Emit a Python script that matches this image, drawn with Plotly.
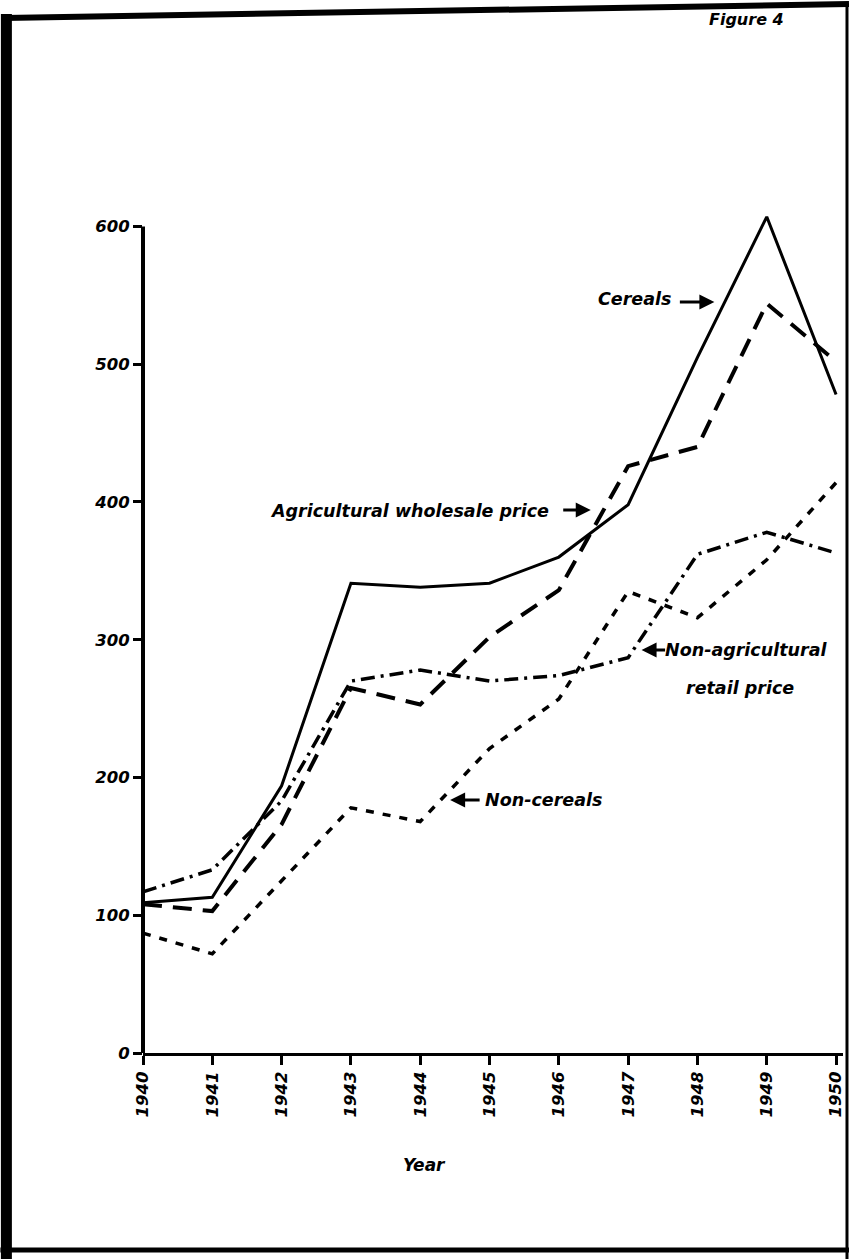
import plotly.graph_objects as go

# Data (index values, 1940-1950)
years = [1940, 1941, 1942, 1943, 1944, 1945, 1946, 1947, 1948, 1949, 1950]
cereals = [109, 113, 194, 341, 338, 341, 360, 398, 505, 607, 478]
agri_wholesale = [108, 103, 166, 265, 253, 302, 336, 426, 440, 544, 502]
nonagri_retail = [117, 133, 183, 270, 278, 270, 274, 287, 362, 378, 363]
non_cereals = [87, 72, 125, 178, 168, 221, 257, 335, 316, 358, 414]

y_ticks = [0, 100, 200, 300, 400, 500, 600]
x_ticks = years

W, H = 851, 1259
L, R, T, B = 143, 845, 192, 1053  # plot area in pixels


def px(x):
    return (x - L) / (R - L)


def py(y):
    return (B - y) / (B - T)


lab_font = dict(family="DejaVu Sans", size=16.5, color="black", weight="bold", style="italic")

fig = go.Figure()

fig.add_trace(go.Scatter(x=years, y=cereals, mode="lines", name="Cereals",
                         line=dict(color="black", width=3)))
fig.add_trace(go.Scatter(x=years, y=agri_wholesale, mode="lines", name="Agricultural wholesale price",
                         line=dict(color="black", width=4, dash="19px,11px")))
fig.add_trace(go.Scatter(x=years, y=nonagri_retail, mode="lines", name="Non-agricultural retail price",
                         line=dict(color="black", width=3.5, dash="14px,6px,3px,6px")))
fig.add_trace(go.Scatter(x=years, y=non_cereals, mode="lines", name="Non-cereals",
                         line=dict(color="black", width=3.5, dash="8px,9px")))

# Axis lines and page frame
shapes = [
    dict(type="line", xref="paper", yref="y", x0=0, x1=0, y0=0, y1=600,
         line=dict(color="black", width=4)),
    dict(type="line", xref="paper", yref="paper", x0=px(6), x1=px(6), y0=py(1259), y1=py(14),
         line=dict(color="black", width=11)),
    dict(type="line", xref="paper", yref="paper", x0=px(4), x1=px(851), y0=py(18), y1=py(4),
         line=dict(color="black", width=6)),
    dict(type="line", xref="paper", yref="paper", x0=px(849), x1=px(849), y0=py(3), y1=py(1259),
         line=dict(color="black", width=3)),
    dict(type="line", xref="paper", yref="paper", x0=px(0), x1=px(851), y0=py(1250), y1=py(1250),
         line=dict(color="black", width=5)),
]

annotations = []


def label(text, x, y, size=17.5):
    f = dict(lab_font)
    f["size"] = size
    annotations.append(dict(text=text, xref="paper", yref="paper", x=px(x), y=py(y),
                            showarrow=False, font=f, xanchor="center", yanchor="middle"))


def arrow(x, y, ax):
    annotations.append(dict(text="", xref="paper", yref="paper", x=px(x), y=py(y),
                            ax=ax, ay=0, showarrow=True, arrowhead=2, arrowsize=1,
                            arrowwidth=3, arrowcolor="black", standoff=0))


label("Cereals", 636, 299)
arrow(716, 302, -36)
label("Agricultural wholesale price", 410, 511)
arrow(592, 510, -29)
label("Non-agricultural", 748, 650)
arrow(643, 650, 25)
label("retail price", 742, 688)
label("Non-cereals", 545, 800)
arrow(451, 800, 31)
label("Figure 4", 748, 19, 16)
label("Year", 425, 1165, 17)

fig.update_layout(
    width=W, height=H,
    margin=dict(l=L, r=W - R, t=T, b=H - B, pad=0),
    paper_bgcolor="white", plot_bgcolor="white",
    showlegend=False,
    shapes=shapes,
    annotations=annotations,
)
fig.update_xaxes(range=[1940, 1950.1], tickvals=x_ticks, ticktext=[str(v) for v in x_ticks],
                 tickangle=-90, ticks="outside", ticklen=9, tickwidth=2.5, tickcolor="black",
                 showgrid=False, zeroline=False, showline=True, linecolor="black", linewidth=3,
                 tickfont=lab_font)
fig.update_yaxes(range=[0, 625], tickvals=y_ticks, ticktext=[str(v) for v in y_ticks],
                 ticks="outside", ticklen=9, tickwidth=2.5, tickcolor="black",
                 showgrid=False, zeroline=False, showline=False,
                 tickfont=lab_font)

# drop the default page margin so the figure sits at the window origin
fig.write_html("out.html", config={"displayModeBar": False},
               post_script="document.body.style.margin='0';")
